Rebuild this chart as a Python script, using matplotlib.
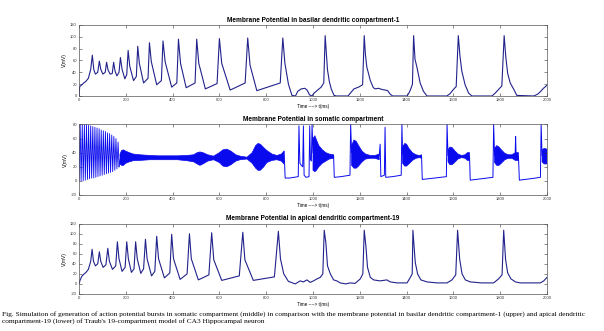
import numpy as np
import matplotlib
matplotlib.use("Agg")
import matplotlib.pyplot as plt

# ---- datos (t en ms, V en mV) ----
xticks = [0, 200, 400, 600, 800, 1000, 1200, 1400, 1600, 1800, 2000]

# compartimento dendritico basal 1
basal_t = [0, 3, 10, 20, 30, 40, 50, 57, 63, 70, 80, 87, 93, 102, 112, 118, 124, 133, 142, 148,
           154, 162, 171, 177, 184, 196, 204, 210, 217, 233, 245, 251, 258, 276, 295, 301, 309,
           332, 352, 359, 368, 396, 418, 425, 434, 458, 496, 503, 512, 540, 590, 600, 610, 646,
           710, 721, 731, 760, 860, 871, 880, 895, 910, 925, 935, 950, 965, 975, 985, 995, 1005,
           1020, 1035, 1046, 1052, 1057, 1062, 1070, 1078, 1090, 1100, 1150, 1160, 1175, 1195,
           1212, 1219, 1224, 1230, 1245, 1258, 1266, 1280, 1295, 1310, 1319, 1330, 1340, 1402,
           1410, 1418, 1425, 1430, 1436, 1444, 1458, 1472, 1487, 1572, 1586, 1600, 1612, 1621,
           1628, 1636, 1650, 1665, 1679, 1765, 1779, 1793, 1807, 1817, 1824, 1832, 1843, 1857,
           1871, 1943, 1960, 1971, 1985, 2000]
basal_v = [0, 16, 18, 22, 25, 30, 45, 69, 45, 37, 40, 59, 45, 37, 40, 57, 44, 37, 38, 57,
           42, 34, 40, 65, 45, 29, 36, 77, 50, 26, 33, 84, 55, 22, 30, 90, 58,
           19, 26, 93, 58, 15, 22, 96, 55, 14, 22, 96, 55, 12, 21, 97, 55, 10,
           22, 98, 52, 9, 22, 98, 55, 20, 1, 0, 8, 12, 13, 10, 2, 0, 5,
           10, 15, 22, 102, 72, 44, 24, 12, 1, 0, 0, 5, 12, 15,
           19, 102, 70, 49, 26, 14, 12, 13, 11, 10, 9, 3, 0, 0,
           5, 12, 20, 102, 62, 49, 22, 8, 0, 0, 4, 11, 16, 102,
           68, 42, 19, 5, 0, 0, 5, 11, 17, 102, 66, 38, 22, 12,
           1, 0, 3, 7, 13, 18]

# compartimento somatico: espigas iniciales
spike_t = [5, 14, 23, 32, 41, 50, 59, 68, 77, 86, 95, 104, 113, 122, 131, 140, 149, 158, 167]
spike_pk = [80, 80, 80, 80, 79, 78, 77, 76, 75, 74, 72, 71, 70, 68, 67, 65, 63, 60, 55]
trough_t = [9, 18, 27, 36, 45, 54, 63, 72, 81, 90, 99, 108, 117, 126, 135, 144, 153, 162, 171]
trough_v = [0, 0, 1, 2, 3, 4, 4, 5, 6, 7, 8, 9, 10, 11, 12, 13, 15, 17, 20]

# compartimento somatico: oscilaciones densas (envolvente superior / inferior)
band_t = [175, 182, 190, 200, 215, 232, 260, 304, 340, 375, 420, 461, 490, 505, 517, 530, 550,
          575, 600, 615, 632, 650, 670, 689, 718, 740, 755, 765, 775, 790, 803, 825, 846, 865,
          876, np.nan,
          1000, 1008, 1015, 1025, 1040, 1055, 1070, 1088, np.nan,
          1165, 1175, 1185, 1195, 1210, 1225, 1245, 1265, 1283, np.nan,
          1383, 1392, 1400, 1410, 1425, 1440, 1455, 1464, np.nan,
          1577, 1585, 1595, 1605, 1620, 1635, 1650, 1660, 1669, np.nan,
          1776, 1785, 1795, 1805, 1820, 1835, 1850, 1865, 1878, np.nan,
          1979, 1988, 2000]
band_hi = [38, 43, 44, 42, 40, 38, 37, 36, 35.5, 35.5, 35.5, 36, 37, 40, 41, 40, 37,
           35, 40, 44, 45, 42, 37, 35, 33.5, 40, 50, 53, 52, 47, 43, 38, 36, 38,
           42, np.nan,
           60, 64, 58, 50, 44, 40, 38, 37, np.nan,
           50, 58, 56, 50, 42, 38, 36, 36, 38, np.nan,
           48, 53, 52, 46, 40, 37, 36, 37, np.nan,
           44, 48, 47, 43, 38, 36, 37, 40, 40, np.nan,
           46, 50, 48, 44, 39, 37, 37, 40, 40, np.nan,
           44, 46, 45]
band_lo = [24, 22, 22, 25, 27, 28.6, 29, 30, 30, 30, 30, 28.6, 27, 24, 22, 24, 28,
           30, 26, 21, 20, 23, 28, 30, 31, 25, 18, 15, 15, 20, 26, 29, 30, 28,
           24, np.nan,
           15, 13, 15, 20, 25, 28, 31, 32, np.nan,
           22, 18, 18, 21, 27, 31, 32, 32, 30, np.nan,
           25, 21, 21, 24, 29, 32, 33, 32, np.nan,
           27, 23, 23, 26, 31, 33, 32, 29, 29, np.nan,
           26, 22, 22, 25, 30, 32, 32, 29, 29, np.nan,
           27, 24, 24]

# compartimento somatico: tramos entre rafagas
soma_t = [171, 175, np.nan,
          876, 878, 881, 900, 937, 940, 944, 950, 956, 959, 962, 970, 983, 986, 989, 993, 996, 1000, np.nan,
          1088, 1091, 1120, 1158, 1161, 1165, np.nan,
          1283, 1287, 1290, 1305, 1308, 1311, 1340, 1377, 1380, 1383, np.nan,
          1464, 1467, 1520, 1570, 1573, 1577, np.nan,
          1669, 1672, 1720, 1769, 1772, 1776, np.nan,
          1864, 1866, 1868, np.nan,
          1878, 1882, 1930, 1972, 1975, 1979]
soma_v = [20, 30, np.nan,
          42, 30, 4, 4, 6, 78, 25, 22, 20, 78, 8, 5, 6, 78, 30, 28, 80, 40, np.nan,
          36, 5, 6, 8, 80, 40, np.nan,
          36, 52, 6, 8, 76, 5, 6, 8, 80, 38, np.nan,
          35, 2, 4, 6, 80, 36, np.nan,
          35, 1, 3, 5, 80, 36, np.nan,
          38, 63, 35, np.nan,
          35, 1, 3, 5, 80, 36]

# compartimento dendritico apical 19
apical_t = [0, 5, 12, 20, 30, 40, 50, 56, 62, 70, 80, 87, 93, 103, 115, 123, 130, 143, 157, 164,
            171, 184, 197, 204, 211, 224, 235, 242, 249, 264, 276, 284, 291, 310, 324, 332, 340,
            365, 388, 396, 404, 432, 462, 472, 480, 510, 555, 567, 576, 610, 685, 700, 709, 745,
            835, 852, 861, 875, 895, 924, 945, 959, 974, 988, 1002, 1017, 1031, 1042, 1048, 1055,
            1062, 1074, 1088, 1102, 1116, 1140, 1159, 1180, 1202, 1213, 1219, 1226, 1233, 1245,
            1259, 1287, 1316, 1330, 1359, 1402, 1416, 1424, 1427, 1437, 1447, 1461, 1487, 1530,
            1573, 1594, 1610, 1618, 1627, 1637, 1651, 1672, 1720, 1772, 1793, 1808, 1815, 1823,
            1832, 1846, 1865, 1886, 1972, 1986, 2000]
apical_v = [0, 8, 15, 19, 23, 29, 45, 69, 45, 36, 40, 64, 45, 33, 38, 71, 45, 29, 36, 84,
            50, 25, 33, 84, 50, 23, 30, 84, 50, 21, 30, 89, 50, 16, 25, 95, 50,
            12, 22, 99, 50, 9, 20, 100, 50, 8, 18, 102, 48, 7, 16, 103, 48, 7,
            14, 105, 50, 20, 5, 0, 6, 4, 8, 3, 6, 10, 13, 20, 107, 82,
            36, 20, 8, 6, 2, 0, 2, 1, 10, 20, 107, 76, 33, 13,
            8, 6, 8, 4, 2, 2, 13, 20, 107, 43, 20, 8, 4, 2,
            2, 8, 18, 107, 49, 20, 8, 4, 2, 2, 10, 18, 107, 49,
            22, 10, 4, 2, 2, 6, 13]

dark_blue = "#22228c"
blue = "#0a0aee"
font = ["Liberation Sans", "DejaVu Sans"]

fig = plt.figure(figsize=(6.04, 3.31), dpi=100)
ax1 = fig.add_axes([0.1308, 0.710, 0.7748, 0.2145])
ax2 = fig.add_axes([0.1308, 0.411, 0.7748, 0.2130])
ax3 = fig.add_axes([0.1308, 0.112, 0.7748, 0.2120])

ax1.plot(basal_t, basal_v, color=dark_blue, lw=0.8)

# somatico: espigas iniciales + rafagas
early_t = [0]
early_v = [0]
for i in range(len(spike_t)):
    early_t += [spike_t[i], trough_t[i]]
    early_v += [spike_pk[i], trough_v[i]]
ax2.plot(early_t, early_v, color=blue, lw=0.6)
ax2.fill_between(band_t, band_lo, band_hi, color=blue, lw=0.5, edgecolor=blue)
ax2.plot(soma_t, soma_v, color=blue, lw=0.7)

ax3.plot(apical_t, apical_v, color=dark_blue, lw=0.8)

titulos = ["Membrane Potential in basilar dendritic compartment-1",
           "Membrane Potential in somatic compartment",
           "Membrane Potential in apical dendritic compartment-19"]
limites = [(0, 120), (-20, 80), (-20, 120)]

for ax, titulo, lim in zip([ax1, ax2, ax3], titulos, limites):
    ax.set_xlim(0, 2000)
    ax.set_ylim(*lim)
    ax.set_xticks(xticks)
    ax.set_xticklabels([str(x) for x in xticks], family=font, fontsize=3)
    yt = list(range(lim[0], lim[1] + 1, 20))
    ax.set_yticks(yt)
    ax.set_yticklabels([str(y) for y in yt], family=font, fontsize=3)
    ax.tick_params(direction="in", top=True, right=True, length=2.5, width=0.4, pad=1.5,
                   colors="#333333")
    for s in ax.spines.values():
        s.set_linewidth(0.5)
        s.set_color("#555555")
    ax.set_title(titulo, fontsize=4.7, fontweight="bold", family=font, pad=2.5)
    ax.set_xlabel("Time ----> t(ms)", fontsize=3.3, family=font, labelpad=1.2)
    ax.set_ylabel("V(mV)", fontsize=3.5, family=font, labelpad=2)

caption = ("Fig. Simulation of generation of action potential bursts in somatic compartment (middle) "
           "in comparison with the membrane potential in basilar dendritic compartment-1 (upper) and apical dendritic\n"
           "compartment-19 (lower) of Traub's 19-compartment model of CA3 Hippocampal neuron")
fig.text(0.003, 0.060, caption, fontsize=5.3, family=["Liberation Serif", "DejaVu Serif"],
         va="top", ha="left", linespacing=1.1)

fig.savefig("out.png", dpi=100)
